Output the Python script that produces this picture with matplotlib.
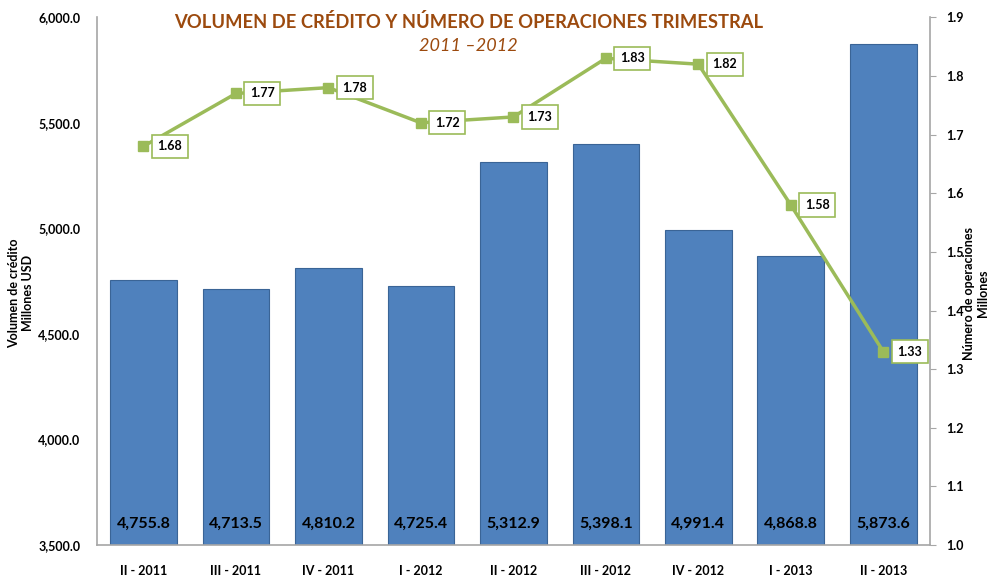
import matplotlib
matplotlib.use('Agg')
import matplotlib.pyplot as plt

plt.rcParams['font.family'] = ['Lato', 'DejaVu Sans']

quarters = ['II - 2011', 'III - 2011', 'IV - 2011', 'I - 2012', 'II - 2012',
            'III - 2012', 'IV - 2012', 'I - 2013', 'II - 2013']
credit = [4755.8, 4713.5, 4810.2, 4725.4, 5312.9, 5398.1, 4991.4, 4868.8, 5873.6]
operations = [1.68, 1.77, 1.78, 1.72, 1.73, 1.83, 1.82, 1.58, 1.33]

bar_color = '#4F81BD'
line_color = '#9BBB59'
title_color = '#9C4A0E'

fig = plt.figure(figsize=(9.92, 5.75), dpi=100)
ax = fig.add_axes([0.098, 0.052, 0.839, 0.918])
x = list(range(len(quarters)))
ax.bar(x, credit, width=0.72, color=bar_color, edgecolor='#3A6496', linewidth=0.8, zorder=2)
ax.set_ylim(3500, 6000)
ax.set_xlim(-0.5, len(quarters) - 0.5)
ax.set_yticks([3500, 4000, 4500, 5000, 5500, 6000])
ax.set_yticklabels(['{:,.1f}'.format(v) for v in [3500, 4000, 4500, 5000, 5500, 6000]],
                   fontsize=9, fontweight='bold')
ax.tick_params(axis='y', length=0, pad=12)
ax.set_xticks(x)
ax.set_xticklabels(quarters, fontsize=9, fontweight='bold')
ax.tick_params(axis='x', length=0, pad=14)
for s in ['top', 'right']:
    ax.spines[s].set_visible(False)
for s in ['left', 'bottom']:
    ax.spines[s].set_color('#A6A6A6')
    ax.spines[s].set_linewidth(1.2)

for xi, v in zip(x, credit):
    ax.text(xi, 3600, '{:,.1f}'.format(v), ha='center', va='center', fontsize=11.5,
            fontweight='bold', color='black', zorder=3)

ax2 = ax.twinx()
ax2.plot(x, operations, color=line_color, linewidth=2.5, marker='s', markersize=7, zorder=4)
ax2.set_ylim(1.0, 1.9)
ax2.set_yticks([1.0 + 0.1 * i for i in range(10)])
ax2.set_yticklabels(['{:.1f}'.format(1.0 + 0.1 * i) for i in range(10)], fontsize=9, fontweight='bold')
ax2.tick_params(axis='y', length=4, color='#A6A6A6', pad=8)
for s in ['top', 'left', 'bottom']:
    ax2.spines[s].set_visible(False)
ax2.spines['right'].set_color('#A6A6A6')
ax2.spines['right'].set_linewidth(1.2)

for xi, v in zip(x, operations):
    ax2.annotate('{:.2f}'.format(v), (xi, v), xytext=(10, 0), textcoords='offset points',
                 ha='left', va='center', fontsize=9, fontweight='bold',
                 bbox=dict(boxstyle='square,pad=0.45', fc='white', ec=line_color, lw=1.2), zorder=5)

# axis titles
fig.text(0.021, 0.49, 'Volumen de crédito\nMillones USD', rotation=90, ha='center', va='center',
         fontsize=9, fontweight='bold', multialignment='center')
fig.text(0.984, 0.49, 'Número de operaciones\nMillones', rotation=90, ha='center', va='center',
         fontsize=9, fontweight='bold', multialignment='center')

fig.text(0.472, 0.962, 'VOLUMEN DE CRÉDITO Y NÚMERO DE OPERACIONES TRIMESTRAL',
         ha='center', va='center', fontsize=13.2, fontweight='bold', color=title_color)
fig.text(0.472, 0.92, '2011 –2012', ha='center', va='center', fontsize=13,
         style='italic', color=title_color)

fig.savefig('out.png', dpi=100)
